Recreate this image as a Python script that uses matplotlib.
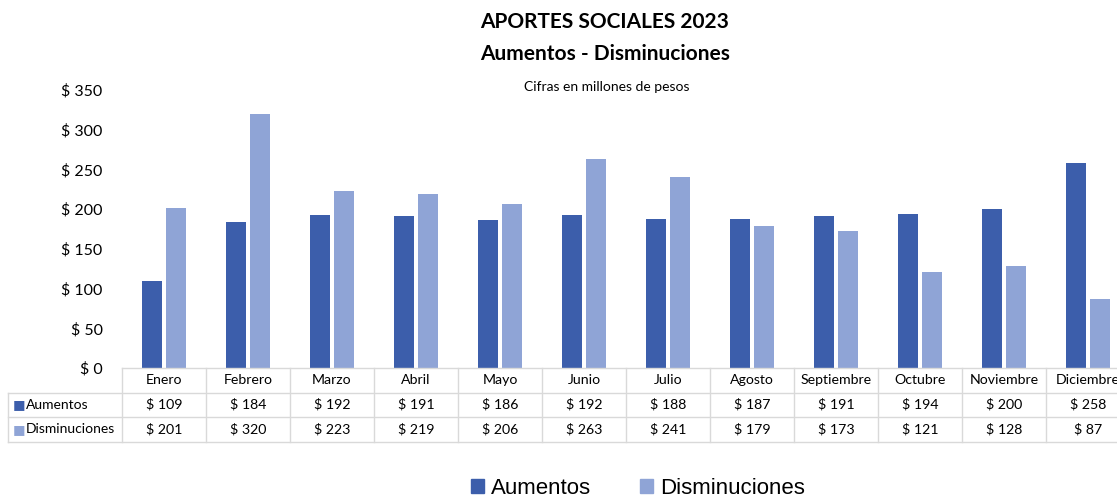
import matplotlib.pyplot as plt
import matplotlib.transforms as mtransforms
from matplotlib.patches import Patch
import numpy as np

meses = ['Enero', 'Febrero', 'Marzo', 'Abril', 'Mayo', 'Junio', 'Julio',
         'Agosto', 'Septiembre', 'Octubre', 'Noviembre', 'Diciembre']
aumentos = [109, 184, 192, 191, 186, 192, 188, 187, 191, 194, 200, 258]
disminuciones = [201, 320, 223, 219, 206, 263, 241, 179, 173, 121, 128, 87]
y_ticks = [0, 50, 100, 150, 200, 250, 300, 350]

c_aum = '#3C5EAB'
c_dis = '#8FA4D6'
grid_c = '#D9D9D9'
font = 'Lato'

W, H = 1117, 499
fig = plt.figure(figsize=(W / 100, H / 100), dpi=100)
# axes in pixel terms: left 122, right 1130 (clipped by figure), y0=368, y350=90
ax = fig.add_axes([122 / W, (H - 368) / H, 1008 / W, 278 / H])

x = np.arange(len(meses))
bw = 0.23
ax.bar(x - 0.1425, aumentos, width=bw, color=c_aum)
ax.bar(x + 0.1425, disminuciones, width=bw, color=c_dis)

ax.set_xlim(-0.5, len(meses) - 0.5)
ax.set_ylim(0, 350)
ax.set_yticks(y_ticks)
ax.set_yticklabels([f'$ {v}' for v in y_ticks], fontsize=11.5, family=font)
ax.tick_params(axis='y', length=0, pad=14)
ax.set_xticks([])
for s in ax.spines.values():
    s.set_visible(False)

# data table below the axes
trans = mtransforms.blended_transform_factory(ax.transData, ax.transAxes)
rh = 24.5 / 278
left_x = -0.5 - (122 - 8) / 84
# vertical lines
for i in range(len(meses) + 1):
    ax.plot([i - 0.5, i - 0.5], [0, -3 * rh], color=grid_c, lw=1,
            transform=trans, clip_on=False)
ax.plot([left_x, left_x], [-rh, -3 * rh], color=grid_c, lw=1,
        transform=trans, clip_on=False)
for k in (1, 2, 3):
    ax.plot([left_x, len(meses) - 0.5], [-k * rh, -k * rh], color=grid_c,
            lw=1, transform=trans, clip_on=False)
ax.plot([-0.5, len(meses) - 0.5], [0, 0], color=grid_c, lw=1,
        transform=trans, clip_on=False)

for i, m in enumerate(meses):
    ax.text(i, -0.5 * rh, m, ha='center', va='center', fontsize=10.2,
            family=font, transform=trans, clip_on=False)
    ax.text(i, -1.5 * rh, f'$ {aumentos[i]}', ha='center', va='center',
            fontsize=10.2, family=font, transform=trans)
    ax.text(i, -2.5 * rh, f'$ {disminuciones[i]}', ha='center', va='center',
            fontsize=10.2, family=font, transform=trans)

for k, (lbl, col) in enumerate([('Aumentos', c_aum), ('Disminuciones', c_dis)]):
    yk = -(1.5 + k) * rh
    ax.text(left_x + 0.06, yk, '\u25A0', color=col, ha='left', va='center',
            fontsize=9.5, family='DejaVu Sans', transform=trans)
    ax.text(left_x + 0.21, yk, lbl, ha='left', va='center', fontsize=10,
            family=font, transform=trans)

fig.text(605 / W, 1 - 22 / H, 'APORTES SOCIALES 2023', ha='center', va='center',
         fontsize=15, fontweight='bold', family=font)
fig.text(605 / W, 1 - 54 / H, 'Aumentos - Disminuciones', ha='center', va='center',
         fontsize=15, fontweight='bold', family=font)
fig.text(607 / W, 1 - 87 / H, 'Cifras en millones de pesos', ha='center',
         va='center', fontsize=10, family=font)

handles = [Patch(color=c_aum, label='Aumentos'),
           Patch(color=c_dis, label='Disminuciones')]
fig.legend(handles=handles, loc='center', bbox_to_anchor=(638 / W, 1 - 488 / H),
           ncol=2, frameon=False, prop={'family': 'Liberation Sans', 'size': 16},
           handlelength=0.6, handleheight=0.6, handletextpad=0.3,
           columnspacing=2.2)

fig.savefig('out.png', dpi=100)
